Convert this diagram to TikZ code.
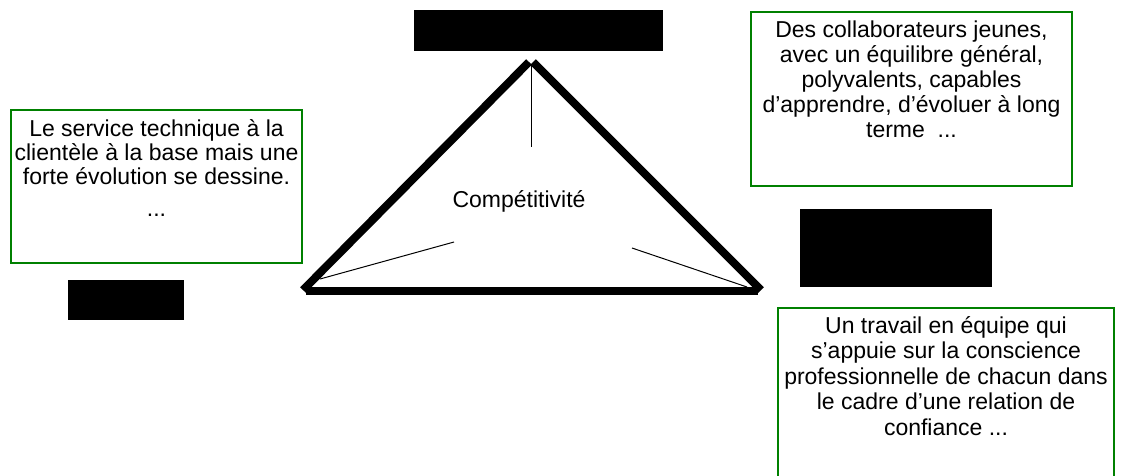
\documentclass[tikz,border=0pt]{standalone}
\usepackage{fontspec}
\setmainfont{Liberation Sans}
\definecolor{boxgreen}{RGB}{0,128,0}
\begin{document}
\begin{tikzpicture}[x=1pt,y=-1pt,
  txt/.style={font=\fontsize{23}{25}\selectfont, align=center, inner sep=0pt, anchor=base},
  greenbox/.style={draw=boxgreen, line width=2pt, fill=white},
  blackbox/.style={fill=black, draw=none},
  side/.style={line width=8pt, line cap=butt},
  thin/.style={line width=1pt}]
\clip (0,0) rectangle (1124,475);
\useasboundingbox (0,0) rectangle (1124,475);

% black labels
\fill[blackbox] (414,10) rectangle (663,51);
\fill[blackbox] (800,209) rectangle (992,287);
\fill[blackbox] (68,280) rectangle (184,320);

% text boxes
\draw[greenbox] (11,110) rectangle (302,263);
\draw[greenbox] (751,12) rectangle (1072,186);
\draw[greenbox] (778,308) rectangle (1114,490);

% anchored on the baseline of the last line of each text
\node[txt, font=\fontsize{23}{24}\selectfont] (left) at (156.5,216)
  {Le service technique à la\\clientèle à la base mais une\\forte évolution se dessine.\\[8pt]...};
\node[txt] (topright) at (911.5,137)
  {Des collaborateurs jeunes,\\avec un équilibre général,\\polyvalents, capables\\d’apprendre, d’évoluer à long\\terme\ \ ...};
\node[txt, font=\fontsize{23}{25.5}\selectfont] (botright) at (946,435)
  {Un travail en équipe qui\\s’appuie sur la conscience\\professionnelle de chacun dans\\le cadre d’une relation de\\confiance ...};

% triangle
\coordinate (apexL) at (529,62);
\coordinate (apexR) at (533,62);
\coordinate (baseL) at (303,290);
\coordinate (baseR) at (761,290);
\draw[side] (baseL) -- (apexL);
\draw[side] (apexR) -- (baseR);
\draw[side] (306,291) -- (758,291);

% inner spokes
\coordinate (apex) at (531,64);
\coordinate (spokeT) at (531,147);
\coordinate (cornerL) at (320,279);
\coordinate (spokeL) at (454,242);
\coordinate (cornerR) at (747,287);
\coordinate (spokeR) at (632,248);
\draw[thin] (apex) -- (spokeT);
\draw[thin] (cornerL) -- (spokeL);
\draw[thin] (cornerR) -- (spokeR);

\node[txt] (comp) at (519,207) {Compétitivité};
\end{tikzpicture}
\end{document}
